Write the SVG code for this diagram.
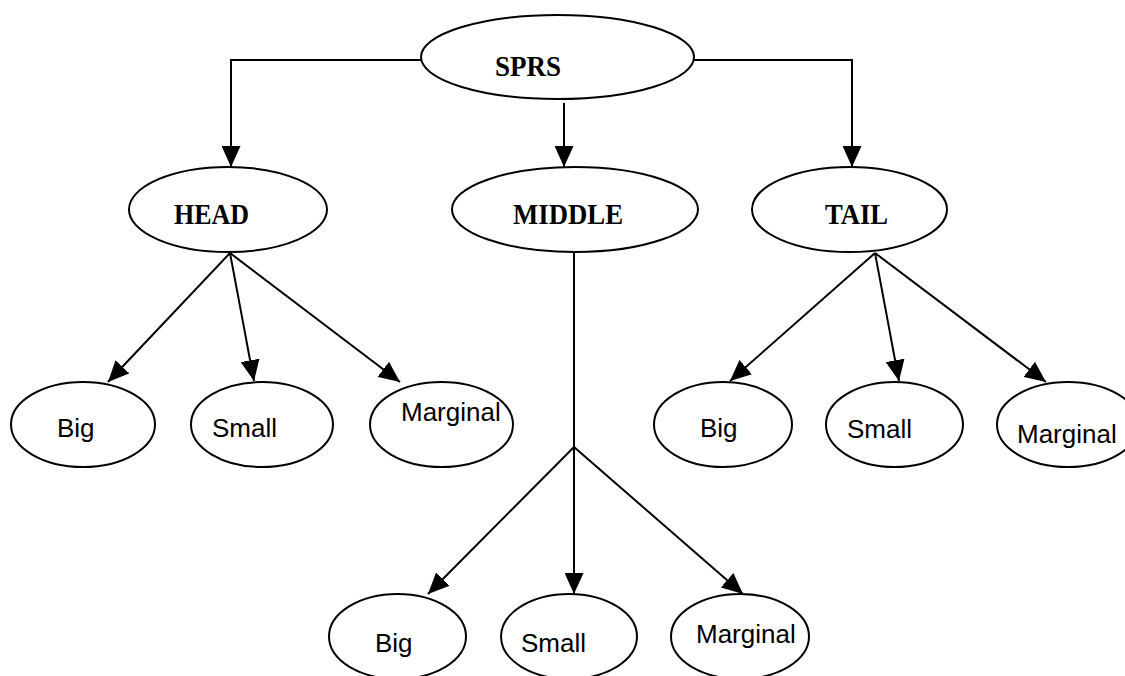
<svg xmlns="http://www.w3.org/2000/svg" width="1125" height="676" viewBox="0 0 1125 676">
  <style>
    .node ellipse { fill: #fff; stroke: #000; stroke-width: 2; }
    .head { font-family: "Liberation Serif", "Times New Roman", serif; font-weight: bold; font-size: 28.5px; fill: #000; }
    .leaf { font-family: "Liberation Sans", Arial, sans-serif; font-size: 26px; fill: #000; }
    .edge { fill: none; stroke: #000; stroke-width: 2; marker-end: url(#arrow); }
    .plain { fill: none; stroke: #000; stroke-width: 2; }
  </style>
  <defs>
    <marker id="arrow" markerUnits="userSpaceOnUse" markerWidth="21" markerHeight="19" refX="21" refY="9.5" orient="auto" viewBox="0 0 21 19">
      <path d="M0,0 L21,9.5 L0,19 z" fill="#000"/>
    </marker>
  </defs>
  <rect width="1125" height="676" fill="#fff"/>

  <g id="connectors">
    <path class="edge" d="M421,60 H231 V167"/>
    <path class="edge" d="M564,103 V167"/>
    <path class="edge" d="M694,60 H852 V167"/>
    <path class="edge" d="M230,253 L108,382"/>
    <path class="edge" d="M230,253 L254,381"/>
    <path class="edge" d="M230,253 L400,382"/>
    <path class="plain" d="M574,252 V447"/>
    <path class="edge" d="M574,447 L428,594"/>
    <path class="edge" d="M574,447 L574,594"/>
    <path class="edge" d="M574,447 L743,594"/>
    <path class="edge" d="M875,253 L730,381"/>
    <path class="edge" d="M875,253 L899,381"/>
    <path class="edge" d="M875,253 L1046,382"/>
  </g>

  <g id="sprs" class="node">
    <ellipse cx="557.5" cy="57" rx="136.5" ry="42"/>
    <text class="head" x="495" y="76" textLength="66" lengthAdjust="spacingAndGlyphs">SPRS</text>
  </g>
  <g id="head" class="node">
    <ellipse cx="228" cy="209.5" rx="99" ry="42.5"/>
    <text class="head" x="174" y="224" textLength="75" lengthAdjust="spacingAndGlyphs">HEAD</text>
  </g>
  <g id="middle" class="node">
    <ellipse cx="575" cy="209.5" rx="123" ry="42.5"/>
    <text class="head" x="513" y="224" textLength="110" lengthAdjust="spacingAndGlyphs">MIDDLE</text>
  </g>
  <g id="tail" class="node">
    <ellipse cx="849.5" cy="209.5" rx="97.5" ry="42.5"/>
    <text class="head" x="825" y="224" textLength="63" lengthAdjust="spacingAndGlyphs">TAIL</text>
  </g>

  <g id="head-big" class="node">
    <ellipse cx="83" cy="424.5" rx="72" ry="42.5"/>
    <text class="leaf" x="57" y="437">Big</text>
  </g>
  <g id="head-small" class="node">
    <ellipse cx="262" cy="424.5" rx="71" ry="42.5"/>
    <text class="leaf" x="212" y="437">Small</text>
  </g>
  <g id="head-marginal" class="node">
    <ellipse cx="441.5" cy="424.5" rx="71.5" ry="42.5"/>
    <text class="leaf" x="401" y="421">Marginal</text>
  </g>

  <g id="middle-big" class="node">
    <ellipse cx="397.5" cy="636.5" rx="68.5" ry="42.5"/>
    <text class="leaf" x="375" y="652">Big</text>
  </g>
  <g id="middle-small" class="node">
    <ellipse cx="569" cy="636.5" rx="68" ry="42.5"/>
    <text class="leaf" x="521" y="652">Small</text>
  </g>
  <g id="middle-marginal" class="node">
    <ellipse cx="740" cy="636.5" rx="69" ry="42.5"/>
    <text class="leaf" x="696" y="643">Marginal</text>
  </g>

  <g id="tail-big" class="node">
    <ellipse cx="723" cy="424.5" rx="69" ry="42.5"/>
    <text class="leaf" x="700" y="437">Big</text>
  </g>
  <g id="tail-small" class="node">
    <ellipse cx="894.5" cy="424.5" rx="68.5" ry="42.5"/>
    <text class="leaf" x="847" y="438">Small</text>
  </g>
  <g id="tail-marginal" class="node">
    <ellipse cx="1068" cy="424.5" rx="71" ry="42.5"/>
    <text class="leaf" x="1017" y="443">Marginal</text>
  </g>
</svg>
